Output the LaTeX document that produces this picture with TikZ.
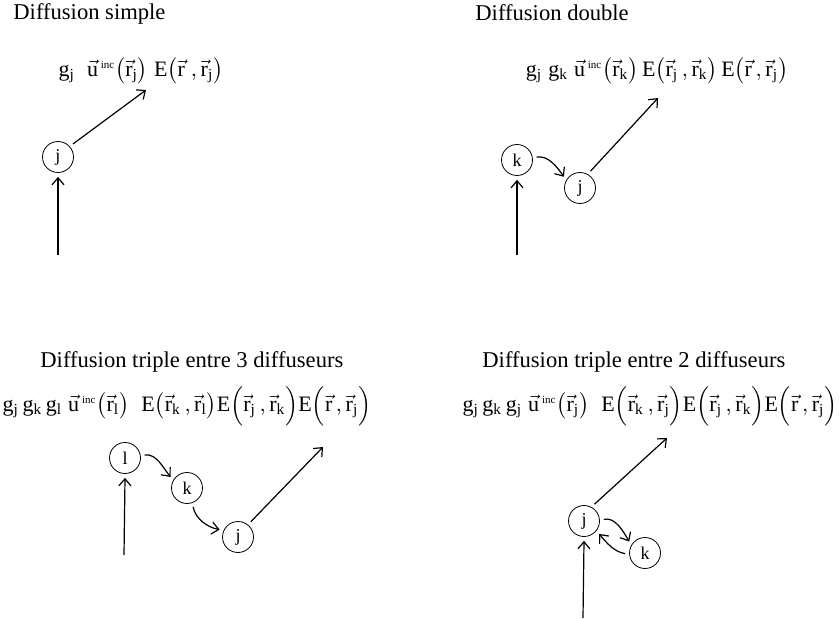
\documentclass[tikz,border=0pt]{standalone}
\usepackage{amsmath}
\usepackage{fontspec}
\setmainfont{Liberation Serif}[Ligatures=NoCommon]
\usepackage{tikz}
\usetikzlibrary{arrows.meta, positioning, calc}
\newcommand{\rv}{\vec{\mathrm{r}}}
\newcommand{\uinc}{\vec{\mathrm{u}}^{\,\scriptscriptstyle\mathrm{inc}}}
\newcommand{\gs}[1]{\mathrm{g}_{\mathrm{#1}}}

\begin{document}
\begin{tikzpicture}[x=0.5pt, y=-0.5pt,
    title/.style={anchor=base west, inner sep=0pt, font=\fontsize{11.3}{13}\selectfont},
    formula/.style={inner sep=0pt, font=\fontsize{11}{13}\selectfont},
    scat/.style={circle, draw, thin, minimum size=15.5pt, inner sep=0pt, font=\fontsize{9}{10}\selectfont},
    arr/.style={-{Straight Barb[length=3.5pt, width=6pt]}, semithick},
    bent/.style={arr, shorten <=2pt, shorten >=2pt}
]
\useasboundingbox (0,0) rectangle (839,619);

% simple
\node[title] (t1) at (13,20) {Diffusion simple};
\node[formula] (f1) at (141,71) {$\gs{j}\;\;\uinc\bigl(\rv_{\mathrm{j}}\bigr)\;\mathrm{E}\bigl(\rv\;,\rv_{\mathrm{j}}\bigr)$};
\node[scat] (j1) at (58,157) {j};
\coordinate (in1) at (58,255);
\coordinate (out1) at (146,90);
\draw[arr] (in1) -- ([yshift=-2pt]j1.south);
\draw[arr] (j1.41) ++(41:2pt) -- (out1);

% double
\node[title] (t2) at (475,21) {Diffusion double};
\node[formula] (f2) at (657,71) {$\gs{j}\;\gs{k}\;\uinc\bigl(\rv_{\mathrm{k}}\bigr)\,\mathrm{E}\bigl(\rv_{\mathrm{j}}\,,\rv_{\mathrm{k}}\bigr)\,\mathrm{E}\bigl(\rv\,,\rv_{\mathrm{j}}\bigr)$};
\node[scat] (k2) at (517,160) {k};
\node[scat] (j2) at (580,188) {j};
\coordinate (in2) at (517,255);
\coordinate (out2) at (658,98);
\draw[arr] (in2) -- ([yshift=-2pt]k2.south);
\draw[bent] (k2.8) to[out=10, in=125] (j2.150);
\draw[arr] (j2.58) ++(58:2pt) -- (out2);

% triple, 3 scatterers
\node[title] (t3) at (40,368) {Diffusion triple entre 3 diffuseurs};
\node[formula] (f3) at (187,406) {$\gs{j}\,\gs{k}\,\gs{l}\;\uinc\bigl(\rv_{\mathrm{l}}\bigr)\;\;\mathrm{E}\bigl(\rv_{\mathrm{k}}\,,\rv_{\mathrm{l}}\bigr)\mathrm{E}\Bigl(\rv_{\mathrm{j}}\,,\rv_{\mathrm{k}}\Bigr)\mathrm{E}\Bigl(\rv\,,\rv_{\mathrm{j}}\Bigr)$};
\node[scat] (l3) at (125,458) {l};
\node[scat] (k3) at (187,488) {k};
\node[scat] (j3) at (238,537) {j};
\coordinate (in3) at (124,555);
\coordinate (out3) at (323,447);
\draw[arr] (in3) -- ([yshift=-2pt]l3.south);
\draw[bent] (l3.8) to[out=10, in=130] (k3.150);
\draw[bent] (k3.-70) to[out=-80, in=170] (j3.155);
\draw[arr] (j3.50) ++(50:2pt) -- (out3);

% triple, 2 scatterers
\node[title] (t4) at (482,368) {Diffusion triple entre 2 diffuseurs};
\node[formula] (f4) at (650,406) {$\gs{j}\,\gs{k}\,\gs{j}\;\uinc\bigl(\rv_{\mathrm{j}}\bigr)\;\;\mathrm{E}\Bigl(\rv_{\mathrm{k}}\,,\rv_{\mathrm{j}}\Bigr)\mathrm{E}\Bigl(\rv_{\mathrm{j}}\,,\rv_{\mathrm{k}}\Bigr)\mathrm{E}\Bigl(\rv\,,\rv_{\mathrm{j}}\Bigr)$};
\node[scat] (j4) at (584,521) {j};
\node[scat] (k4) at (645,553) {k};
\coordinate (in4) at (583,618);
\coordinate (out4) at (667,438);
\draw[arr] (in4) -- ([yshift=-2pt]j4.south);
\draw[bent] (j4.2) to[out=15, in=120] (k4.150);
\draw[bent] (k4.185) to[out=170, in=-50] (j4.-38);
\draw[arr] (j4.58) ++(58:2pt) -- (out4);
\end{tikzpicture}
\end{document}
